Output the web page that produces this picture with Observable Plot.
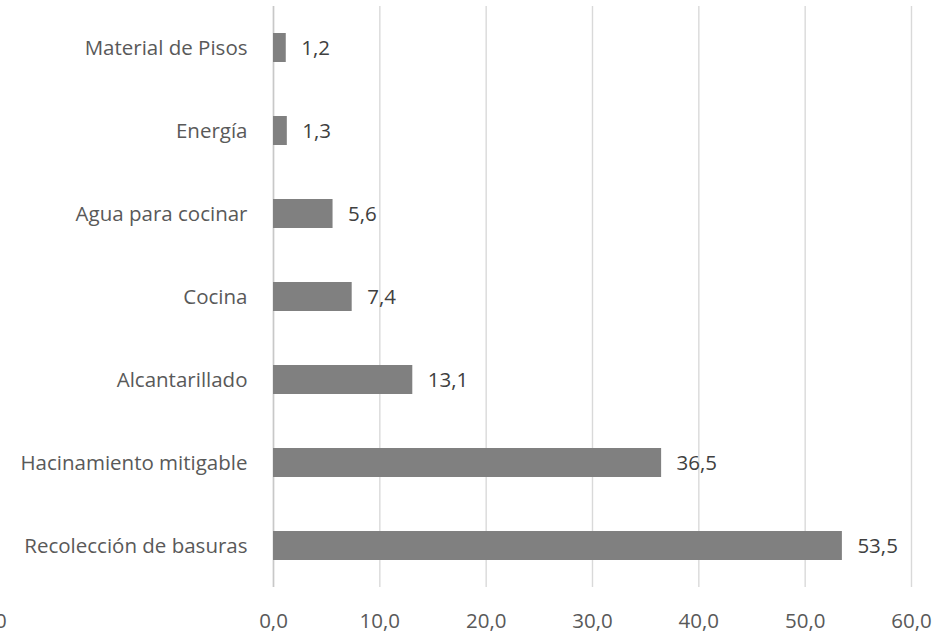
<!DOCTYPE html>
<html>
<head>
<meta charset="utf-8">
<script src="https://cdn.jsdelivr.net/npm/d3@7"></script>
<script src="https://cdn.jsdelivr.net/npm/@observablehq/plot@0.6"></script>
<style>
  html, body { margin: 0; padding: 0; background: #fff; overflow: hidden; }
  #wrap { position: relative; width: 934px; height: 633px; }
  #stray { position: absolute; left: -5px; top: 606px; font: 20.5px "Open Sans", sans-serif; color: #595959; }
</style>
</head>
<body>
<div id="wrap"><div id="stray">0</div></div>
<script>
const categories = ["Material de Pisos", "Energía", "Agua para cocinar", "Cocina", "Alcantarillado", "Hacinamiento mitigable", "Recolección de basuras"];
const values = [1.2, 1.3, 5.6, 7.4, 13.1, 36.5, 53.5];
const xTicks = [0, 10, 20, 30, 40, 50, 60];

const data = categories.map((c, i) => ({category: c, value: values[i]}));
const fmt = v => d3.format(".1f")(v).replace(".", ",");

const chart = Plot.plot({
  width: 934,
  height: 633,
  marginLeft: 273,
  marginRight: 23,
  marginTop: 6,
  marginBottom: 46,
  style: {fontFamily: "Open Sans, sans-serif", fontSize: "20.5px", color: "#595959", background: "#fff"},
  x: {domain: [0, 60], ticks: xTicks, tickFormat: fmt, label: null},
  y: {domain: categories, paddingInner: 0.65, paddingOuter: 0.325, label: null},
  marks: [
    Plot.gridX(xTicks, {stroke: "#d9d9d9", strokeOpacity: 1, strokeWidth: 1.4}),
    Plot.ruleX([0], {stroke: "#c8c8c8", strokeWidth: 1.5}),
    Plot.barX(data, {x: "value", y: "category", fill: "#808080"}),
    Plot.text(data, {x: "value", y: "category", text: d => fmt(d.value), textAnchor: "start", dx: 15, fill: "#404040", fontSize: 20.5}),
    Plot.axisX({ticks: xTicks, tickFormat: fmt, tickSize: 0, tickPadding: 26, fontSize: 20.5, fill: "#595959"}),
    Plot.axisY({tickSize: 0, tickPadding: 26, fontSize: 20.5, fill: "#595959"})
  ]
});
document.getElementById("wrap").appendChild(chart);
</script>
</body>
</html>
